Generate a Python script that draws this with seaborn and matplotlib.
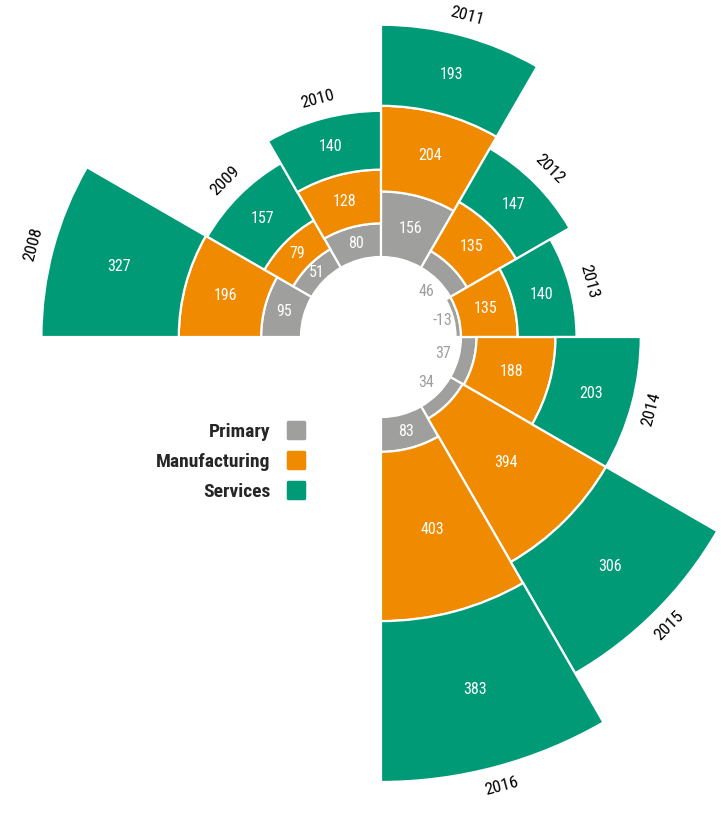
import numpy as np
import pandas as pd
import matplotlib
matplotlib.use('Agg')
import matplotlib.pyplot as plt
from matplotlib.lines import Line2D
from matplotlib.markers import MarkerStyle
import seaborn as sns

# Data
years = ['2008', '2009', '2010', '2011', '2012', '2013', '2014', '2015', '2016']
primary = [95, 51, 80, 156, 46, -13, 37, 34, 83]
manufacturing = [196, 79, 128, 204, 135, 135, 188, 394, 403]
services = [327, 157, 140, 193, 147, 140, 203, 306, 383]

GRAY = '#9f9f9e'
ORANGE = '#f08a00'
GREEN = '#009a77'

sns.set_style('white')
plt.rcParams['font.family'] = ['Roboto Condensed', 'DejaVu Sans']

# Geometry
PX = 0.42            # pixels per unit of value
HOLE = 80 / PX       # inner hole radius in value units
R = 460              # axes radius in pixels
CX, CY = 381, 337    # chart centre in pixels (from top-left)
W, H = 721, 816

fig = plt.figure(figsize=(W / 100, H / 100), dpi=100)
ax = fig.add_axes([(CX - R) / W, (H - CY - R) / H, 2 * R / W, 2 * R / H],
                  projection='polar')
ax.set_theta_zero_location('N')
ax.set_theta_direction(-1)

df = pd.DataFrame({
    'year': years,
    'theta': np.deg2rad(285 + 30 * np.arange(len(years))),
    'primary': primary,
    'manufacturing': manufacturing,
    'services': services,
})
df['b_prim'] = HOLE
df['b_manu'] = HOLE + df['primary'].clip(lower=0)
df['b_serv'] = df['b_manu'] + df['manufacturing']
df['top'] = df['b_serv'] + df['services']

bar_kws = dict(native_scale=True, width=1, saturation=1, errorbar=None,
               edgecolor='white', linewidth=1.6, ax=ax)
sns.barplot(data=df, x='theta', y='primary', bottom=df['b_prim'].to_numpy(),
            color=GRAY, **bar_kws)
sns.barplot(data=df, x='theta', y='manufacturing', bottom=df['b_manu'].to_numpy(),
            color=ORANGE, **bar_kws)
sns.barplot(data=df, x='theta', y='services', bottom=df['b_serv'].to_numpy(),
            color=GREEN, **bar_kws)

ax.set_xlim(0, 2 * np.pi)
ax.set_ylim(0, R / PX)
ax.set_axis_off()

# Value labels
VAL_FS = 11.5
for _, row in df.iterrows():
    t = row['theta']
    if row['primary'] < 50:
        ax.text(t, 64 / PX, f"{row['primary']:d}", color=GRAY, fontsize=VAL_FS,
                ha='center', va='center')
    else:
        ax.text(t, row['b_prim'] + row['primary'] / 2, f"{row['primary']:d}",
                color='white', fontsize=VAL_FS, ha='center', va='center')
    ax.text(t, row['b_manu'] + row['manufacturing'] / 2, f"{row['manufacturing']:d}",
            color='white', fontsize=VAL_FS, ha='center', va='center')
    ax.text(t, row['b_serv'] + row['services'] / 2, f"{row['services']:d}",
            color='white', fontsize=VAL_FS, ha='center', va='center')

    # Year label, tangential to the outer edge
    rot = -np.rad2deg(t)
    rot = (rot + 180) % 360 - 180
    if rot < -90:
        rot += 180
    elif rot > 90:
        rot -= 180
    ax.text(t, row['top'] + 20 / PX, row['year'], fontsize=12.5, color='black',
            rotation=rot, rotation_mode='anchor', ha='center', va='center')

# Legend: text first, square marker on the right
handles = [Line2D([], [], linestyle='', marker=MarkerStyle('s', joinstyle='round'),
                  markersize=11, markeredgewidth=2.5, color=c)
           for c in (GRAY, ORANGE, GREEN)]
fig.legend(handles, ['Primary', 'Manufacturing', 'Services'],
           loc='center right', bbox_to_anchor=(306 / W, (H - 462) / H),
           frameon=False, markerfirst=False, borderpad=0, borderaxespad=0,
           handlelength=1.05, handletextpad=0.78, labelspacing=0.62,
           prop={'size': 14, 'weight': 'bold'})

fig.savefig('out.png', dpi=100)
